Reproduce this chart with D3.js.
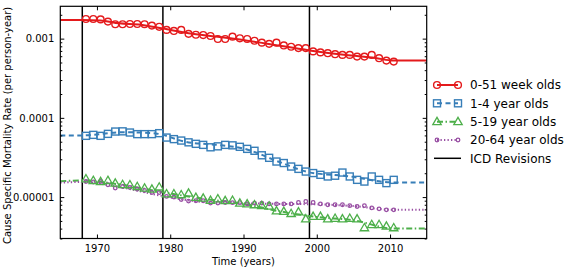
<!DOCTYPE html>
<html><head><meta charset="utf-8">
<script src="https://cdn.jsdelivr.net/npm/d3@7"></script>
<style>body{margin:0;background:#fff} svg{display:block} text{font-family:"DejaVu Sans",sans-serif}</style>
</head><body><svg id="c" width="567" height="269"></svg>
<script>
const years = [1968,1969,1970,1971,1972,1973,1974,1975,1976,1977,1978,1979,1980,1981,1982,1983,1984,1985,1986,1987,1988,1989,1990,1991,1992,1993,1994,1995,1996,1997,1998,1999,2000,2001,2002,2003,2004,2005,2006,2007,2008,2009,2010];
const infant = [1.77,1.77,1.75,1.64,1.52,1.52,1.53,1.53,1.52,1.46,1.41,1.29,1.25,1.29,1.15,1.12,1.11,1.08,0.99,0.99,1.06,1.01,0.99,0.94,0.89,0.86,0.89,0.82,0.79,0.76,0.76,0.69,0.67,0.655,0.636,0.623,0.623,0.593,0.593,0.623,0.566,0.528,0.513].map(v=>v*1e-3);
const child = [5.93,6.10,5.93,6.28,6.72,6.76,6.53,6.23,6.23,6.23,6.41,5.64,5.39,5.17,4.91,4.70,4.56,4.25,4.37,4.56,4.50,4.31,4.06,3.84,3.37,3.13,2.81,2.69,2.43,2.27,2.10,2.01,1.91,1.82,1.86,2.04,1.82,1.65,1.57,1.82,1.65,1.50,1.65].map(v=>v*1e-5);
const youth = [1.70,1.62,1.57,1.62,1.50,1.44,1.43,1.36,1.30,1.26,1.34,1.10,1.10,1.07,1.12,0.99,0.97,0.91,0.95,0.90,0.91,0.84,0.82,0.80,0.78,0.77,0.67,0.66,0.62,0.65,0.53,0.57,0.57,0.53,0.54,0.53,0.54,0.53,0.41,0.45,0.45,0.43,0.41].map(v=>v*1e-5);
const adult = [1.57,1.55,1.57,1.43,1.30,1.36,1.32,1.26,1.21,1.14,1.14,1.02,1.00,0.93,0.89,0.90,0.90,0.84,0.84,0.855,0.85,0.85,0.82,0.84,0.84,0.82,0.82,0.82,0.82,0.855,0.88,0.855,0.82,0.80,0.80,0.80,0.78,0.76,0.78,0.73,0.71,0.69,0.69].map(v=>v*1e-5);

const infantFit = [[1965,1.72e-3],[1968,1.72e-3],[1970.5,1.70e-3],[1973,1.56e-3],[1976,1.50e-3],[1979,1.34e-3],[1983,1.15e-3],[1988,1.02e-3],[1993,0.87e-3],[1999,0.71e-3],[2004,0.62e-3],[2008,0.57e-3],[2010.5,0.528e-3],[2015,0.528e-3]];
const childFit = [[1965,6.0e-5],[1968,6.0e-5],[1973.5,6.6e-5],[1978,6.35e-5],[1982,5.0e-5],[1987,4.5e-5],[1990,4.1e-5],[1995,2.75e-5],[1999,2.05e-5],[2004,1.85e-5],[2010.5,1.53e-5],[2015,1.53e-5]];
const youthFit = [[1965,1.58e-5],[1968,1.62e-5],[1973,1.45e-5],[1979,1.15e-5],[1985,0.94e-5],[1990,0.82e-5],[1995,0.66e-5],[2000,0.56e-5],[2005,0.51e-5],[2010.5,0.40e-5],[2015,0.40e-5]];
const adultFit = [[1965,1.52e-5],[1968,1.55e-5],[1973,1.34e-5],[1979,1.03e-5],[1985,0.86e-5],[1995,0.82e-5],[2000,0.81e-5],[2005,0.77e-5],[2010.5,0.69e-5],[2015,0.69e-5]];

const icdYears = [1968,1979,1999];
const xTicks = [1970,1980,1990,2000,2010];
const yTicks = [1e-5,1e-4,1e-3];
const yTickLabels = ["0.00001","0.0001","0.001"];
const seriesNames = ["0-51 week olds","1-4 year olds","5-19 year olds","20-64 year olds"];
const icdName = "ICD Revisions";

const svg = d3.select("#c");
const L=60.3,R=426.7,T=6.3,B=238.5;
const x = d3.scaleLinear().domain([1965,2015]).range([L,R]);
const y = d3.scaleLog().domain([3e-6,2.56e-3]).range([B,T]);

const minor = [];
[1e-6,1e-5,1e-4,1e-3].forEach(d=>{for(let k=2;k<=9;k++){const v=d*k; if(v>=3e-6&&v<=2.56e-3) minor.push(v);}});

const colors = ["#e41a1c","#377eb8","#4daf4a","#984ea3"];
const dashes = [null,"5,3.5","6,2.5,1.5,2.5","1.3,2.2"];
const fits = [infantFit,childFit,youthFit,adultFit];
const vals = [infant,child,youth,adult];

// ICD lines
svg.selectAll(".icd").data(icdYears).join("line")
  .attr("x1",d=>x(d)).attr("x2",d=>x(d)).attr("y1",T).attr("y2",B)
  .attr("stroke","#000").attr("stroke-width",1.5);

const line = d3.line().x(d=>x(d[0])).y(d=>y(d[1])).curve(d3.curveMonotoneX);
fits.forEach((f,i)=>{
  svg.append("path").attr("d",line(f)).attr("fill","none")
    .attr("stroke",colors[i]).attr("stroke-width",2)
    .attr("stroke-dasharray",dashes[i]);
});

function marker(g,i,cx,cy){
  if(i===0) g.append("circle").attr("cx",cx).attr("cy",cy).attr("r",3.4).attr("fill","none").attr("stroke",colors[0]).attr("stroke-width",1.4);
  else if(i===1) g.append("rect").attr("x",cx-3.5).attr("y",cy-3.5).attr("width",7).attr("height",7).attr("fill","none").attr("stroke",colors[1]).attr("stroke-width",1.4);
  else if(i===2) g.append("path").attr("d",`M${cx},${cy-4.3}L${cx+4.2},${cy+3}L${cx-4.2},${cy+3}Z`).attr("fill","none").attr("stroke",colors[2]).attr("stroke-width",1.3);
  else g.append("circle").attr("cx",cx).attr("cy",cy).attr("r",1.8).attr("fill","none").attr("stroke",colors[3]).attr("stroke-width",1.3);
}
[3,2,1,0].forEach(i=>{
  const g = svg.append("g");
  years.forEach((yr,j)=>marker(g,i,x(yr+0.5),y(vals[i][j])));
});

// axes
const ax = svg.append("g");
ax.append("g").attr("transform",`translate(0,${B})`)
  .call(d3.axisBottom(x).tickValues(xTicks).tickFormat(d3.format("d")).tickSizeInner(-4).tickSizeOuter(0).tickPadding(6));
ax.append("g").attr("transform",`translate(0,${T})`)
  .call(d3.axisTop(x).tickValues(xTicks).tickFormat("").tickSizeInner(-4).tickSizeOuter(0));
ax.append("g").attr("transform",`translate(${L},0)`)
  .call(d3.axisLeft(y).tickValues(yTicks).tickFormat((d,i)=>yTickLabels[i]).tickSizeInner(-4).tickSizeOuter(0).tickPadding(6));
ax.append("g").attr("transform",`translate(${L},0)`)
  .call(d3.axisLeft(y).tickValues(minor).tickFormat("").tickSizeInner(-2).tickSizeOuter(0));
ax.append("g").attr("transform",`translate(${R},0)`)
  .call(d3.axisRight(y).tickValues(yTicks).tickFormat("").tickSizeInner(-4).tickSizeOuter(0));
ax.append("g").attr("transform",`translate(${R},0)`)
  .call(d3.axisRight(y).tickValues(minor).tickFormat("").tickSizeInner(-2).tickSizeOuter(0));
ax.selectAll(".domain").remove();
ax.selectAll("text").attr("font-size",10).attr("fill","#000").attr("font-family","DejaVu Sans");
ax.selectAll(".tick line").attr("stroke","#000");
svg.append("rect").attr("x",L).attr("y",T).attr("width",R-L).attr("height",B-T)
  .attr("fill","none").attr("stroke","#000").attr("stroke-width",1.2);

svg.append("text").attr("x",(L+R)/2).attr("y",265).attr("text-anchor","middle").attr("font-size",10).text("Time (years)");
svg.append("text").attr("transform",`translate(11,${(T+B)/2+3}) rotate(-90)`).attr("text-anchor","middle").attr("font-size",10).text("Cause Specific Mortality Rate (per person-year)");

// legend
const ly = [85,103.3,121.7,140,158.3];
seriesNames.forEach((n,i)=>{
  const g = svg.append("g");
  g.append("line").attr("x1",437).attr("x2",458).attr("y1",ly[i]).attr("y2",ly[i])
    .attr("stroke",colors[i]).attr("stroke-width",2).attr("stroke-dasharray",dashes[i]);
  marker(g,i,437,ly[i]); marker(g,i,458,ly[i]);
  g.append("text").attr("x",470).attr("y",ly[i]+4.3).attr("font-size",12).text(n);
});
svg.append("line").attr("x1",434).attr("x2",461).attr("y1",ly[4]).attr("y2",ly[4]).attr("stroke","#000").attr("stroke-width",1.5);
svg.append("text").attr("x",470).attr("y",ly[4]+4.3).attr("font-size",12).text(icdName);
</script></body></html>
